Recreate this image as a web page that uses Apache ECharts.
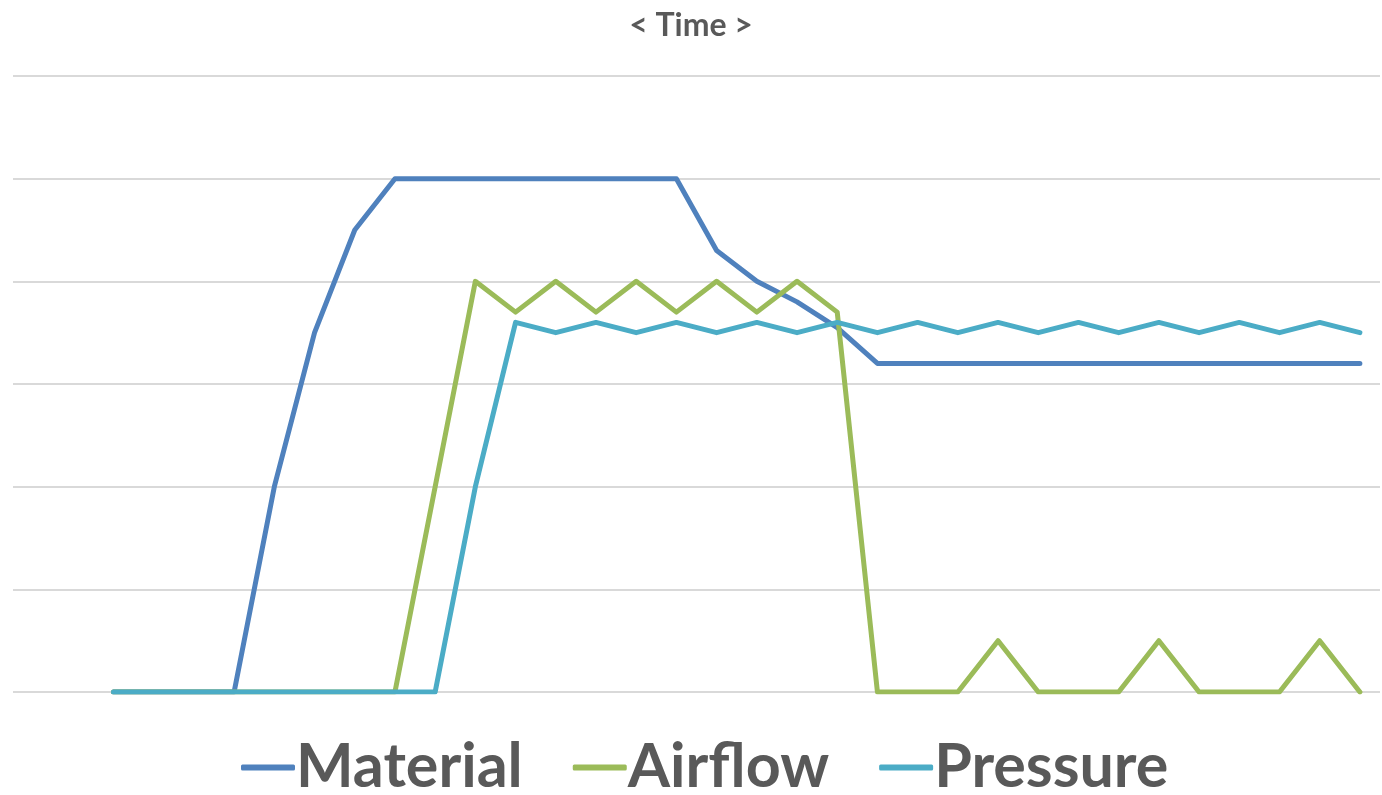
<!DOCTYPE html>
<html>
<head>
<meta charset="utf-8">
<script src="https://cdn.jsdelivr.net/npm/echarts@6/dist/echarts.min.js"></script>
<style>html,body{margin:0;padding:0;background:#fff}#c{width:1382px;height:795px}</style>
</head>
<body>
<div id="c"></div>
<script>
const categories = ['t01','t02','t03','t04','t05','t06','t07','t08','t09','t10','t11','t12','t13','t14','t15','t16','t17','t18','t19','t20','t21','t22','t23','t24','t25','t26','t27','t28','t29','t30','t31','t32','t33','t34'];
const material = [null,null,0,0,0,0,2,3.5,4.5,5,5,5,5,5,5,5,5,4.3,4,3.8,3.55,3.2,3.2,3.2,3.2,3.2,3.2,3.2,3.2,3.2,3.2,3.2,3.2,3.2];
const airflow  = [null,null,0,0,0,0,0,0,0,0,2,4,3.7,4,3.7,4,3.7,4,3.7,4,3.7,0,0,0,0.5,0,0,0,0.5,0,0,0,0.5,0];
const pressure = [null,null,0,0,0,0,0,0,0,0,0,2,3.6,3.5,3.6,3.5,3.6,3.5,3.6,3.5,3.6,3.5,3.6,3.5,3.6,3.5,3.6,3.5,3.6,3.5,3.6,3.5,3.6,3.5];
const seriesNames = ['Material','Airflow','Pressure'];
const colors = ['#4F81BD','#9BBB59','#4BACC6'];

const chart = echarts.init(document.getElementById('c'), null, {renderer:'canvas'});
const mk = (name, data, color) => ({
  name, type:'line', data, symbol:'none', smooth:false,
  lineStyle:{color, width:5, cap:'round', join:'round'},
  itemStyle:{color}
});
chart.setOption({
  animation:false,
  title:{text:'< Time >', left:'center', top:5,
    textStyle:{fontFamily:'Lato', fontWeight:'bold', fontSize:32, color:'#595959'}},
  grid:{left:13, right:2, top:76, bottom:103, containLabel:false},
  xAxis:{type:'category', data:categories, boundaryGap:true,
    axisLine:{show:false}, axisTick:{show:false}, axisLabel:{show:false}, splitLine:{show:false}},
  yAxis:{type:'value', min:0, max:6, interval:1,
    axisLine:{show:false}, axisTick:{show:false}, axisLabel:{show:false},
    splitLine:{lineStyle:{color:'#d9d9d9', width:2}}},
  legend:{bottom:-8, left:236, itemWidth:54, itemHeight:6, itemGap:50,
    icon:'roundRect',
    data:seriesNames,
    textStyle:{fontFamily:'Lato', fontWeight:'bold', fontSize:61, color:'#595959', padding:[0,0,0,-4]}},
  series:[mk(seriesNames[0], material, colors[0]), mk(seriesNames[1], airflow, colors[1]), mk(seriesNames[2], pressure, colors[2])]
});
</script>
</body>
</html>
